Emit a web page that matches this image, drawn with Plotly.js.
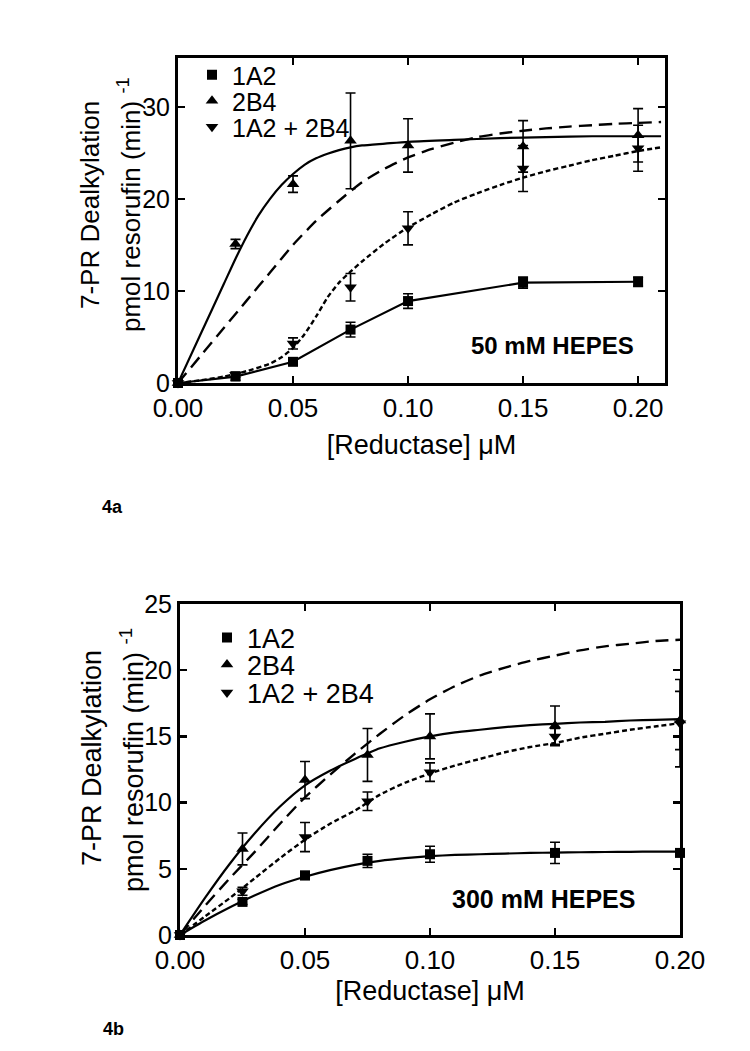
<!DOCTYPE html>
<html>
<head>
<meta charset="utf-8">
<script src="https://cdn.plot.ly/plotly-3.0.1.min.js"></script>
<style>html,body{margin:0;padding:0;background:#fff;}#chart{width:750px;height:1051px;}</style>
</head>
<body>
<div id="chart"></div>
<script>
// ---------- data ----------
var concentration = [0, 0.025, 0.05, 0.075, 0.1, 0.15, 0.2];
var seriesNames = ["1A2", "2B4", "1A2 + 2B4"];

// Panel 4a (50 mM HEPES)
var a1A2     = [0, 0.7, 2.3, 5.8, 8.9, 10.9, 11.0];
var a1A2Err  = [0, 0.4, 0.3, 0.8, 0.8, 0.6, 0.5];
var a2B4     = [0, 15.1, 21.6, 26.3, 25.8, 25.7, 26.9];
var a2B4Err  = [0, 0.5, 0.9, 5.2, 2.9, 2.8, 2.9];
var aMix     = [0, 0.9, 4.3, 10.4, 16.8, 23.3, 25.5];
var aMixErr  = [0, 0.3, 0.6, 1.5, 1.8, 2.5, 2.5];

// fitted curves, panel 4a
var aFit2B4X = [0, 0.01, 0.02, 0.025, 0.03, 0.035, 0.04, 0.045, 0.05, 0.055, 0.06, 0.065, 0.07, 0.075, 0.08, 0.09, 0.1, 0.12, 0.14, 0.16, 0.18, 0.21];
var aFit2B4Y = [0, 5.4, 10.8, 13.5, 16.0, 18.2, 20.0, 21.5, 22.7, 23.7, 24.4, 24.9, 25.3, 25.6, 25.8, 26.0, 26.2, 26.4, 26.6, 26.7, 26.8, 26.8];
var aDashX   = [0, 0.01, 0.02, 0.03, 0.04, 0.05, 0.06, 0.07, 0.08, 0.09, 0.1, 0.11, 0.12, 0.13, 0.14, 0.15, 0.16, 0.17, 0.18, 0.19, 0.2, 0.21];
var aDashY   = [0, 3.0, 6.0, 9.0, 12.0, 15.0, 17.6, 19.8, 21.8, 23.3, 24.5, 25.4, 26.1, 26.7, 27.1, 27.4, 27.65, 27.85, 28.0, 28.15, 28.25, 28.35];
var aDotX    = [0, 0.01, 0.02, 0.03, 0.04, 0.045, 0.05, 0.055, 0.06, 0.065, 0.07, 0.075, 0.08, 0.09, 0.1, 0.11, 0.12, 0.13, 0.14, 0.15, 0.16, 0.17, 0.18, 0.19, 0.2, 0.21];
var aDotY    = [0, 0.3, 0.7, 1.3, 2.1, 2.8, 3.8, 5.3, 7.2, 9.3, 10.9, 12.1, 13.2, 15.2, 16.9, 18.3, 19.6, 20.6, 21.5, 22.3, 23.0, 23.6, 24.2, 24.7, 25.2, 25.6];

// Panel 4b (300 mM HEPES)
var b1A2     = [0, 2.5, 4.5, 5.6, 6.1, 6.2, 6.2];
var b1A2Err  = [0, 0.2, 0.3, 0.5, 0.6, 0.8, 0];
var b2B4     = [0, 6.5, 11.7, 13.6, 15.0, 15.8, 16.2];
var b2B4Err  = [0, 1.2, 1.4, 2.0, 1.7, 1.5, 2.2];
var bMix     = [0, 3.3, 7.4, 10.1, 12.3, 15.0, 16.0];
var bMixErr  = [0, 0.3, 1.1, 0.7, 0.7, 0.6, 3.3];

// fitted curves, panel 4b
var bFitX    = [0, 0.01, 0.02, 0.03, 0.04, 0.05, 0.06, 0.07, 0.08, 0.09, 0.1, 0.11, 0.12, 0.13, 0.14, 0.15, 0.16, 0.17, 0.18, 0.19, 0.2];
var bFit1A2Y = [0, 1.1, 2.1, 3.0, 3.8, 4.4, 4.9, 5.3, 5.6, 5.8, 5.95, 6.05, 6.1, 6.15, 6.2, 6.22, 6.25, 6.27, 6.28, 6.3, 6.3];
var bFit2B4Y = [0, 2.8, 5.4, 7.7, 9.7, 11.3, 12.4, 13.3, 14.1, 14.6, 15.0, 15.3, 15.5, 15.7, 15.85, 15.95, 16.05, 16.1, 16.2, 16.25, 16.3];
var bDashY   = [0, 2.2, 4.3, 6.3, 8.4, 10.4, 12.1, 13.7, 15.2, 16.6, 17.8, 18.8, 19.6, 20.2, 20.7, 21.1, 21.5, 21.8, 22.0, 22.2, 22.3];
var bDotY    = [0, 1.4, 2.8, 4.3, 5.8, 7.2, 8.4, 9.4, 10.6, 11.5, 12.2, 12.8, 13.3, 13.8, 14.2, 14.5, 14.9, 15.2, 15.5, 15.75, 16.0];

// ---------- styling ----------
var FONT = "Liberation Sans, Arial, Helvetica, sans-serif";
var W = 750, H = 1051;
function px(x) { return x / W; }
function py(y) { return 1 - y / H; }

function errBar(arr) {
  return {type: "data", array: arr, visible: true, color: "black", thickness: 1.6, width: 5};
}
function curve(x, y, xa, ya, dash, w) {
  return {x: x, y: y, xaxis: xa, yaxis: ya, mode: "lines", showlegend: false, hoverinfo: "skip",
          line: {color: "black", width: w || 2.2, dash: dash || "solid", shape: "spline", smoothing: 0.6}};
}
function pts(y, err, xa, ya, sym, size, name, leg) {
  return {x: concentration, y: y, xaxis: xa, yaxis: ya, mode: "markers", name: name, legend: leg,
          marker: {symbol: sym, size: size, color: "black"}, error_y: errBar(err), cliponaxis: false};
}

var DASH = "13px,7px";
var DOT = "5px,3px";

var traces = [
  // Panel a curves
  curve(aFit2B4X, aFit2B4Y, "x", "y", "solid", 2.2),
  curve(aDashX, aDashY, "x", "y", DASH, 2.4),
  curve(aDotX, aDotY, "x", "y", DOT, 2.4),
  {x: concentration, y: a1A2, xaxis: "x", yaxis: "y", mode: "lines", showlegend: false, hoverinfo: "skip",
   line: {color: "black", width: 2.2}},
  pts(a1A2, a1A2Err, "x", "y", "square", 10, seriesNames[0], "legend"),
  pts(a2B4, a2B4Err, "x", "y", "triangle-up", 11, seriesNames[1], "legend2"),
  pts(aMix, aMixErr, "x", "y", "triangle-down", 11, seriesNames[2], "legend3"),
  // Panel b curves
  curve(bFitX, bFit1A2Y, "x2", "y2", "solid", 2.2),
  curve(bFitX, bFit2B4Y, "x2", "y2", "solid", 2.2),
  curve(bFitX, bDashY, "x2", "y2", DASH, 2.4),
  curve(bFitX, bDotY, "x2", "y2", DOT, 2.4),
  pts(b1A2, b1A2Err, "x2", "y2", "square", 10, seriesNames[0], "legend4"),
  pts(b2B4, b2B4Err, "x2", "y2", "triangle-up", 11, seriesNames[1], "legend5"),
  pts(bMix, bMixErr, "x2", "y2", "triangle-down", 11, seriesNames[2], "legend6")
];

function axisBase(extra) {
  var o = {showline: true, linewidth: 3, linecolor: "black", mirror: "ticks", ticks: "inside",
           ticklen: 7, tickwidth: 2.5, tickcolor: "black", showgrid: false, zeroline: false,
           tickfont: {family: FONT, size: 26, color: "black"}, automargin: false, fixedrange: true};
  for (var k in extra) o[k] = extra[k];
  return o;
}

function leg(x, y, size) {
  return {x: x, y: y, xanchor: "left", yanchor: "middle", bgcolor: "rgba(0,0,0,0)", borderwidth: 0,
          font: {family: FONT, size: size, color: "black"}, itemwidth: 30, tracegroupgap: 0};
}

var layout = {
  width: W, height: H,
  margin: {l: 0, r: 0, t: 0, b: 0},
  paper_bgcolor: "white", plot_bgcolor: "white",
  font: {family: FONT, color: "black"},
  xaxis: axisBase({domain: [px(178), px(665)], range: [0, 0.2117], dtick: 0.05, tickformat: ".2f", anchor: "y",
    title: {text: "[Reductase] \u03bcM", font: {family: FONT, size: 27, color: "black"}, standoff: 13}}),
  yaxis: axisBase({domain: [py(383), py(58)], range: [0, 35.3], dtick: 10, anchor: "x",
    tickfont: {family: FONT, size: 25, color: "black"}}),
  xaxis2: axisBase({domain: [px(180), px(680)], range: [0, 0.2], dtick: 0.05, tickformat: ".2f", anchor: "y2",
    title: {text: "[Reductase] \u03bcM", font: {family: FONT, size: 27, color: "black"}, standoff: 7}}),
  yaxis2: axisBase({domain: [py(935), py(604)], range: [0, 25], dtick: 5, anchor: "x2",
    tickfont: {family: FONT, size: 25, color: "black"}}),
  legend:  leg(px(192), py(75), 25),
  legend2: leg(px(192), py(101), 25),
  legend3: leg(px(192), py(127), 25),
  legend4: leg(px(207), py(638), 27),
  legend5: leg(px(207), py(665), 27),
  legend6: leg(px(207), py(693), 27),
  annotations: [
    {xref: "paper", yref: "paper", x: px(90), y: py(205), text: "7-PR Dealkylation", textangle: -90, showarrow: false,
     xanchor: "center", yanchor: "middle", font: {family: FONT, size: 26, color: "black"}},
    {xref: "paper", yref: "paper", x: px(129), y: py(205), text: "pmol resorufin (min) <sup>-1</sup>", textangle: -90, showarrow: false,
     xanchor: "center", yanchor: "middle", font: {family: FONT, size: 26, color: "black"}},
    {xref: "paper", yref: "paper", x: px(92), y: py(758), text: "7-PR Dealkylation", textangle: -90, showarrow: false,
     xanchor: "center", yanchor: "middle", font: {family: FONT, size: 27, color: "black"}},
    {xref: "paper", yref: "paper", x: px(132), y: py(760), text: "pmol resorufin (min) <sup>-1</sup>", textangle: -90, showarrow: false,
     xanchor: "center", yanchor: "middle", font: {family: FONT, size: 27, color: "black"}},
    {xref: "paper", yref: "paper", x: px(552), y: py(345), text: "<b>50 mM HEPES</b>", showarrow: false,
     xanchor: "center", yanchor: "middle", font: {family: FONT, size: 24, color: "black"}},
    {xref: "paper", yref: "paper", x: px(543), y: py(899), text: "<b>300 mM HEPES</b>", showarrow: false,
     xanchor: "center", yanchor: "middle", font: {family: FONT, size: 25, color: "black"}},
    {xref: "paper", yref: "paper", x: px(112), y: py(507), text: "<b>4a</b>", showarrow: false,
     xanchor: "center", yanchor: "middle", font: {family: FONT, size: 18, color: "black"}},
    {xref: "paper", yref: "paper", x: px(113), y: py(1029), text: "<b>4b</b>", showarrow: false,
     xanchor: "center", yanchor: "middle", font: {family: FONT, size: 18, color: "black"}}
  ]
};

Plotly.newPlot("chart", traces, layout, {staticPlot: true, displayModeBar: false});
</script>
</body>
</html>
